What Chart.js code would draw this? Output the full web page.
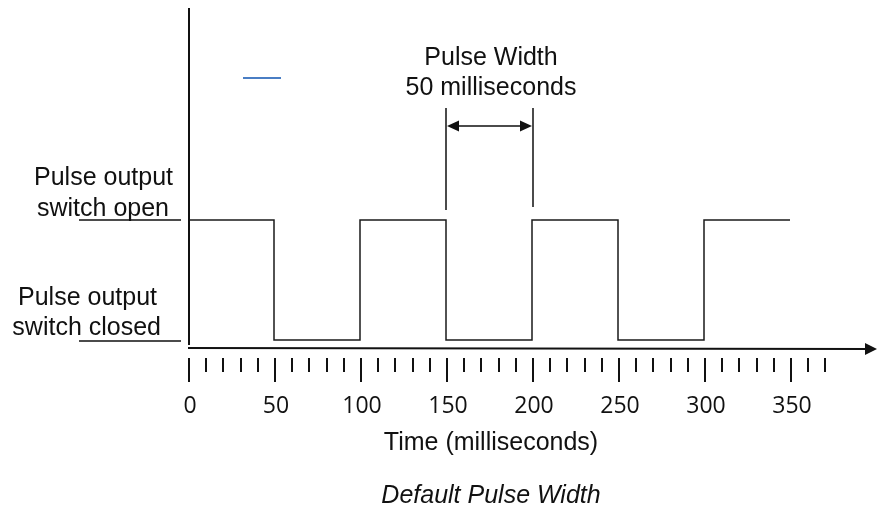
<!DOCTYPE html>
<html>
<head>
<meta charset="utf-8">
<script src="https://cdn.jsdelivr.net/npm/chart.js@4.4.1/dist/chart.umd.min.js"></script>
<style>
  html, body { margin: 0; padding: 0; background: #fff; }
  #wrap { width: 877px; height: 508px; }
</style>
</head>
<body>
<div id="wrap"><canvas id="pulse"></canvas></div>
<script>
// switch state at each edge (1 = open, 0 = closed), stepped line
const edgeTimes = [0, 50, 100, 150, 200, 250, 300, 350]
const edgeStates = [1, 0, 1, 0, 1, 0, 1, 1]
const tickLabels = ['0', '50', '100', '150', '200', '250', '300', '350']
const tickValues = [0, 50, 100, 150, 200, 250, 300, 350]
const minorTicks = [0, 10, 20, 30, 40, 50, 60, 70, 80, 90, 100, 110, 120, 130, 140, 150, 160, 170, 180, 190,
    200, 210, 220, 230, 240, 250, 260, 270, 280, 290, 300, 310, 320, 330, 340, 350, 360, 370]
const pulseStart = 150
const pulseEnd = 200

function arrowHead(ctx, x, y, dir, len, half) {
    ctx.beginPath()
    ctx.moveTo(x, y)
    ctx.lineTo(x - dir * len, y - half)
    ctx.lineTo(x - dir * len, y + half)
    ctx.closePath()
    ctx.fill()
}

const diagram = {
    id: "diagram",
    afterDatasetsDraw(chart) {
        const {ctx, scales: {x, y}} = chart
        const x0 = x.getPixelForValue(0)
        const yOpen = y.getPixelForValue(1)
        const yClosed = y.getPixelForValue(0)
        ctx.save()
        ctx.strokeStyle = "#111"
        ctx.fillStyle = "#111"

        // vertical axis
        ctx.lineWidth = 2
        ctx.beginPath()
        ctx.moveTo(x0 + 1, 8)
        ctx.lineTo(x0 + 1, 345)
        ctx.stroke()

        // time axis with arrow
        ctx.beginPath()
        ctx.moveTo(x0, 348)
        ctx.lineTo(866, 349)
        ctx.stroke()
        arrowHead(ctx, 877, 349, 1, 12, 6)

        // level guide lines on the left
        ctx.lineWidth = 1.5
        ctx.beginPath()
        ctx.moveTo(79, yOpen)
        ctx.lineTo(181, yOpen)
        ctx.moveTo(79, yClosed + 1)
        ctx.lineTo(181, yClosed + 1)
        ctx.stroke()

        // ticks
        ctx.lineWidth = 2
        minorTicks.forEach(v => {
            const px = Math.round(x.getPixelForValue(v)) + 1
            const major = v % 50 === 0
            ctx.beginPath()
            ctx.moveTo(px, 358)
            ctx.lineTo(px, major ? 382 : 372)
            ctx.stroke()
        })

        ctx.font = "23px 'Open Sans'"
        ctx.textAlign = "center"
        ctx.textBaseline = "middle"
        tickLabels.forEach((t, i) => {
            ctx.fillText(t, x.getPixelForValue(tickValues[i]) + 2, 406)
        })

        ctx.font = "25px 'Liberation Sans'"
        ctx.fillText("Time (milliseconds)", 491, 443)
        ctx.font = "italic 25px 'Liberation Sans'"
        ctx.fillText("Default Pulse Width", 491, 496)

        ctx.font = "25px 'Liberation Sans'"
        ctx.textAlign = "right"
        ctx.fillText("Pulse output", 173, 178)
        ctx.fillText("switch open", 169, 209)
        ctx.fillText("Pulse output", 157, 298)
        ctx.fillText("switch closed", 161, 328)

        // pulse width annotation
        const xa = x.getPixelForValue(pulseStart)
        const xb = x.getPixelForValue(pulseEnd)
        ctx.lineWidth = 1.5
        ctx.beginPath()
        ctx.moveTo(xa, 108)
        ctx.lineTo(xa, 210)
        ctx.moveTo(xb + 1, 108)
        ctx.lineTo(xb + 1, 207)
        ctx.moveTo(xa + 8, 126)
        ctx.lineTo(xb - 7, 126)
        ctx.stroke()
        arrowHead(ctx, xa + 1, 126, -1, 12, 5.5)
        arrowHead(ctx, xb, 126, 1, 12, 5.5)

        ctx.textAlign = "center"
        ctx.fillText("Pulse Width", (xa + xb) / 2 + 2, 58)
        ctx.fillText("50 milliseconds", (xa + xb) / 2 + 2, 88)

        // stray legend swatch
        ctx.strokeStyle = "#4a7ec4"
        ctx.lineWidth = 2
        ctx.beginPath()
        ctx.moveTo(243, 78)
        ctx.lineTo(281, 78)
        ctx.stroke()
        ctx.restore()
    }
}

const ctx = document.getElementById('pulse').getContext('2d')
new Chart(ctx, {
    type: "line",
    data: {
        datasets: [{
            data: edgeTimes.map((t, i) => ({x: t, y: edgeStates[i]})),
            borderColor: "#1a1a1a",
            borderWidth: 1.5,
            pointRadius: 0,
            stepped: true,
            fill: false
        }]
    },
    options: {
        responsive: true,
        maintainAspectRatio: false,
        animation: false,
        layout: {
            padding: {left: 188, right: 1, top: 8, bottom: 160}
        },
        scales: {
            x: {type: "linear", min: 0, max: 400, display: false},
            y: {type: "linear", min: -0.0667, max: 2.7667, display: false}
        },
        plugins: {
            legend: {display: false},
            tooltip: {enabled: false}
        }
    },
    plugins: [diagram]
})
</script>
</body>
</html>
